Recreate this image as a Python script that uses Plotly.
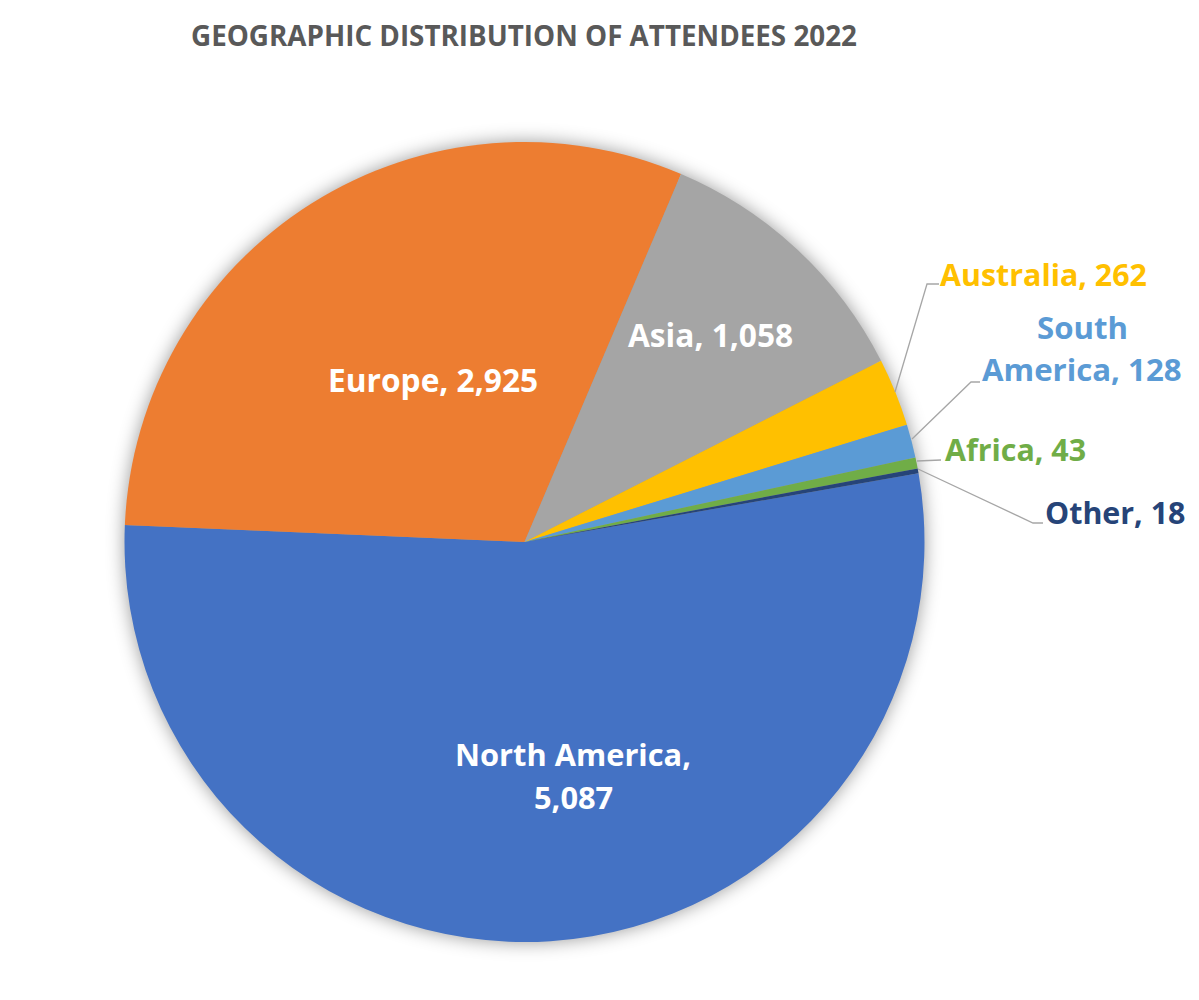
import plotly.graph_objects as go

W, H = 1199, 1000

regions = ['North America', 'Europe', 'Asia', 'Australia', 'South America', 'Africa', 'Other']
attendees = [5087, 2925, 1058, 262, 128, 43, 18]
colors = ['#4472C4', '#ED7D31', '#A5A5A5', '#FFC000', '#5B9BD5', '#70AD47', '#264478']

title_text = 'GEOGRAPHIC DISTRIBUTION OF ATTENDEES 2022'
label_lines = [['North America,', '5,087'], ['Europe, 2,925'], ['Asia, 1,058'], ['Australia, 262'],
               ['South', 'America, 128'], ['Africa, 43'], ['Other, 18']]
label_colors = ['white', 'white', 'white', '#FFC000', '#5B9BD5', '#70AD47', '#264478']
label_sizes = [30.8, 31.7, 31.7, 30.4, 31.2, 30.4, 30.4]
# label centres in pixels of the picture
label_pos = [(573, 775), (433, 379), (710, 335), (1043, 274), (1082, 348), (1016, 449), (1115, 512)]
LINE_GAP = 43

# leader lines, pixels: slice edge -> elbow -> label
leaders = [
    [(895, 392), (927, 284), (939, 284)],
    [(912, 439), (971, 382), (980, 382)],
    [(917, 461), (941, 460)],
    [(918, 469), (1033, 523), (1043, 523)],
]


def px(x, y):
    return x / W, 1 - y / H


fig = go.Figure(
    go.Pie(
        labels=regions,
        values=attendees,
        sort=False,
        direction='clockwise',
        rotation=80.1,
        marker=dict(colors=colors, line=dict(width=0)),
        textinfo='none',
        hoverinfo='label+value',
        domain=dict(x=[124 / W, 925 / W], y=[1 - 942 / H, 1 - 142 / H]),
    )
)

for lines, color, size, (x, y) in zip(label_lines, label_colors, label_sizes, label_pos):
    # two-line labels sit wider apart than plotly's own line spacing
    first_y = y - LINE_GAP * (len(lines) - 1) / 2
    for i, line in enumerate(lines):
        ax, ay = px(x, first_y + i * LINE_GAP)
        fig.add_annotation(
            text=line, x=ax, y=ay, xref='paper', yref='paper', showarrow=False,
            xanchor='center', yanchor='middle',
            font=dict(family='Open Sans', size=size, color=color, weight=700),
        )

for pts in leaders:
    path = 'M ' + ' L '.join('%f,%f' % px(x, y) for x, y in pts)
    fig.add_shape(type='path', path=path, xref='paper', yref='paper',
                  line=dict(color='#A6A6A6', width=1.3))

tx, ty = px(524, 35)
fig.add_annotation(
    text=title_text, x=tx, y=ty, xref='paper', yref='paper', showarrow=False,
    xanchor='center', yanchor='middle',
    font=dict(family='Open Sans', size=27.8, color='#595959', weight=700),
)

fig.update_layout(
    width=W,
    height=H,
    margin=dict(l=0, r=0, t=0, b=0),
    showlegend=False,
    paper_bgcolor='white',
)

# soft shadow round the pie, and no page margin
post = """
document.body.style.margin = '0';
var pie = document.querySelector('.pielayer');
if (pie) { pie.style.filter = 'drop-shadow(0 0 9px rgba(0,0,0,0.4))'; }
"""
fig.write_html("out.html", post_script=post, config={'displayModeBar': False})
